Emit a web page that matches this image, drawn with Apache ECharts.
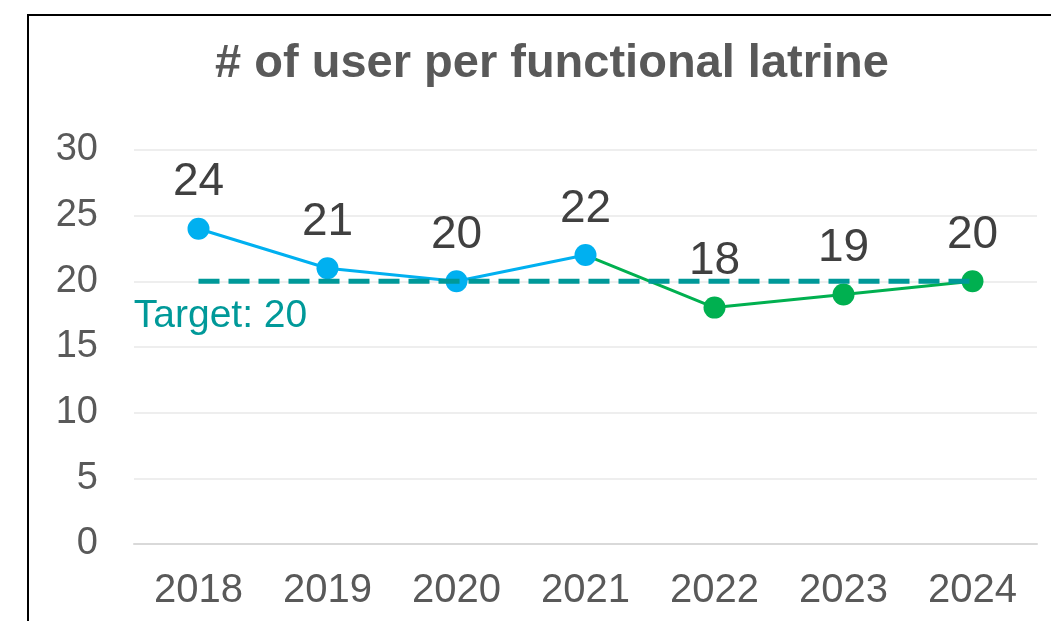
<!DOCTYPE html>
<html>
<head>
<meta charset="utf-8">
<script src="https://cdn.jsdelivr.net/npm/echarts@6/dist/echarts.min.js"></script>
<style>
  html, body { margin: 0; padding: 0; background: #fff; }
  #chart { width: 1051px; height: 621px; }
</style>
</head>
<body>
<div id="chart"></div>
<script>
// data
const years = ['2018', '2019', '2020', '2021', '2022', '2023', '2024'];
const earlyUsers = [24, 21, 20, 22, null, null, null];   // blue part
const lateUsers = [null, null, null, 22, 18, 19, 20];    // green part
const targetValues = [20, 20, 20, 20, 20, 20, 20];
const yTicks = { min: 0, max: 30, interval: 5 };

const FONT = 'Liberation Sans, Arial, sans-serif';

const chart = echarts.init(document.getElementById('chart'), null, { renderer: 'canvas' });

const dataLabel = {
  show: true,
  position: 'top',
  distance: 12,
  fontSize: 46,
  fontFamily: FONT,
  color: '#404040'
};

chart.setOption({
  animation: false,
  backgroundColor: '#ffffff',
  title: {
    text: '# of user per functional latrine',
    left: 547,
    textAlign: 'center',
    top: 36,
    textStyle: {
      fontFamily: FONT,
      fontSize: 47,
      fontWeight: 'bold',
      color: '#595959'
    }
  },
  graphic: [{
    type: 'rect',
    shape: { x: 28, y: 15, width: 1100, height: 700 },
    style: { fill: 'none', stroke: '#000', lineWidth: 2 },
    silent: true
  }],
  grid: { left: 134, right: 14, top: 150, bottom: 77 },
  xAxis: {
    type: 'category',
    data: years,
    boundaryGap: true,
    axisTick: { show: false },
    axisLine: { lineStyle: { color: '#d9d9d9', width: 2 } },
    axisLabel: { fontSize: 40, fontFamily: FONT, color: '#595959', margin: 27 }
  },
  yAxis: {
    type: 'value',
    min: yTicks.min,
    max: yTicks.max,
    interval: yTicks.interval,
    axisLine: { show: false },
    axisTick: { show: false },
    axisLabel: { fontSize: 38, fontFamily: FONT, color: '#595959', margin: 36 },
    splitLine: { lineStyle: { color: '#eeeeee', width: 2 } }
  },
  series: [
    {
      name: 'early',
      type: 'line',
      data: earlyUsers,
      symbol: 'circle',
      symbolSize: 22,
      lineStyle: { color: '#00B0F0', width: 3 },
      itemStyle: { color: '#00B0F0' },
      label: dataLabel,
      z: 3
    },
    {
      name: 'late',
      type: 'line',
      data: lateUsers.map((v, i) => i === 3 ? { value: v, symbol: 'none', label: { show: false } } : v),
      symbol: 'circle',
      symbolSize: 22,
      lineStyle: { color: '#00B050', width: 3 },
      itemStyle: { color: '#00B050' },
      label: dataLabel,
      z: 2
    },
    {
      name: 'target',
      type: 'line',
      data: targetValues,
      symbol: 'circle',
      symbolSize: 1,
      showAllSymbol: true,
      itemStyle: { color: 'rgba(0,0,0,0)' },
      lineStyle: { color: '#009999', width: 5, type: [21, 9] },
      label: {
        show: true,
        position: 'bottom',
        distance: 15,
        offset: [22, 0],
        formatter: p => p.dataIndex === 0 ? 'Target: ' + p.value : '',
        fontSize: 39,
        fontFamily: FONT,
        color: '#009999'
      },
      z: 4
    }
  ]
});
</script>
</body>
</html>
